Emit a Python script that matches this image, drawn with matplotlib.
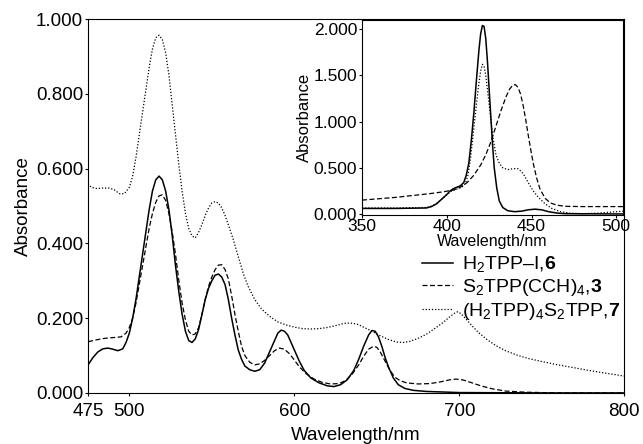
import matplotlib
matplotlib.use("Agg")
import matplotlib.pyplot as plt

plt.rcParams['font.family'] = ['Liberation Sans', 'DejaVu Sans']
plt.rcParams['mathtext.fontset'] = 'custom'
plt.rcParams['mathtext.rm'] = 'Liberation Sans'
plt.rcParams['mathtext.bf'] = 'Liberation Sans:bold'

# main panel: visible region spectra
wl_6 = [475, 478, 481, 484, 487, 490, 493, 496, 498, 500, 502, 504, 506, 508, 510, 512, 514,
        516, 518, 520, 522, 524, 526, 528, 530, 532, 534, 536, 538, 540, 542, 544, 546, 548,
        550, 552, 554, 556, 558, 560, 562, 564, 566, 568, 570, 573, 576, 579, 582, 585, 588,
        590, 592, 594, 596, 598, 600, 603, 606, 610, 615, 620, 624, 628, 632, 636, 639, 642,
        645, 647, 649, 651, 653, 655, 657, 660, 663, 667, 672, 680, 700, 750, 800]
abs_6 = [0.075, 0.095, 0.11, 0.118, 0.12, 0.117, 0.113, 0.118, 0.135, 0.16, 0.20, 0.25, 0.31,
         0.37, 0.43, 0.49, 0.54, 0.57, 0.58, 0.57, 0.54, 0.49, 0.42, 0.34, 0.27, 0.21, 0.165,
         0.14, 0.135, 0.145, 0.17, 0.21, 0.25, 0.28, 0.30, 0.315, 0.318, 0.31, 0.29, 0.25,
         0.20, 0.155, 0.115, 0.09, 0.072, 0.062, 0.058, 0.062, 0.08, 0.11, 0.14, 0.16, 0.168,
         0.165, 0.155, 0.135, 0.115, 0.085, 0.06, 0.04, 0.027, 0.019, 0.017, 0.022, 0.035,
         0.06, 0.09, 0.125, 0.155, 0.167, 0.165, 0.15, 0.125, 0.095, 0.07, 0.04, 0.022, 0.012,
         0.007, 0.004, 0.001, 0.0, 0.0]

wl_3 = [475, 480, 485, 490, 495, 498, 500, 502, 504, 506, 508, 510, 512, 514, 516, 518, 520,
        522, 524, 526, 528, 530, 532, 534, 536, 538, 540, 542, 544, 546, 548, 550, 552, 554,
        556, 558, 560, 562, 564, 566, 568, 570, 573, 576, 579, 582, 585, 588, 591, 594, 597,
        600, 603, 607, 612, 617, 622, 627, 631, 635, 639, 642, 645, 648, 650, 652, 655, 658,
        661, 664, 668, 675, 682, 688, 694, 698, 702, 707, 713, 720, 728, 740, 760, 800]
abs_3 = [0.137, 0.142, 0.146, 0.148, 0.15, 0.16, 0.175, 0.2, 0.24, 0.29, 0.34, 0.39, 0.44,
         0.48, 0.51, 0.527, 0.53, 0.515, 0.48, 0.43, 0.37, 0.30, 0.24, 0.195, 0.165, 0.155,
         0.158, 0.175, 0.21, 0.25, 0.285, 0.31, 0.33, 0.342, 0.343, 0.33, 0.305, 0.26, 0.21,
         0.165, 0.125, 0.10, 0.082, 0.075, 0.078, 0.087, 0.10, 0.113, 0.12, 0.117, 0.105,
         0.088, 0.07, 0.052, 0.037, 0.028, 0.024, 0.025, 0.033, 0.05, 0.075, 0.098, 0.117,
         0.125, 0.122, 0.11, 0.085, 0.06, 0.042, 0.033, 0.027, 0.024, 0.025, 0.029, 0.035,
         0.037, 0.035, 0.028, 0.019, 0.011, 0.005, 0.002, 0.0, 0.0]

wl_7 = [475, 477, 480, 484, 488, 491, 494, 497, 500, 502, 504, 506, 508, 510, 512, 514, 516,
        518, 520, 522, 524, 526, 528, 530, 532, 534, 536, 538, 540, 542, 544, 546, 548, 550,
        552, 554, 556, 558, 560, 563, 566, 569, 572, 576, 580, 585, 590, 595, 600, 605, 610,
        615, 620, 625, 630, 634, 638, 642, 647, 652, 657, 662, 666, 670, 675, 680, 685, 690,
        694, 697, 699, 701, 704, 708, 712, 717, 722, 728, 735, 742, 750, 760, 770, 780, 790,
        800]
abs_7 = [0.56, 0.55, 0.547, 0.548, 0.548, 0.543, 0.533, 0.533, 0.55, 0.58, 0.63, 0.69, 0.75,
         0.81, 0.87, 0.92, 0.95, 0.957, 0.945, 0.91, 0.85, 0.77, 0.69, 0.61, 0.54, 0.48, 0.44,
         0.42, 0.415, 0.43, 0.45, 0.475, 0.495, 0.508, 0.512, 0.508, 0.495, 0.475, 0.45, 0.41,
         0.365, 0.32, 0.285, 0.25, 0.225, 0.205, 0.19, 0.182, 0.176, 0.172, 0.171, 0.172,
         0.175, 0.18, 0.186, 0.187, 0.184, 0.176, 0.165, 0.153, 0.143, 0.136, 0.135, 0.138,
         0.146, 0.157, 0.172, 0.188, 0.203, 0.213, 0.217, 0.212, 0.198, 0.178, 0.16, 0.142,
         0.127, 0.113, 0.101, 0.092, 0.084, 0.075, 0.067, 0.059, 0.052, 0.045]

# inset: Soret region
wl_6_in = [350, 370, 388, 391, 394, 397, 400, 402, 404, 406, 408, 410, 411.5, 413, 414.5, 416,
           417.5, 419, 420, 421, 422, 423, 424, 425, 426, 427, 428, 429.5, 431, 433, 436, 440,
           444, 448, 452, 456, 460, 465, 470, 504]
abs_6_in = [0.06, 0.06, 0.065, 0.08, 0.11, 0.16, 0.21, 0.25, 0.275, 0.29, 0.305, 0.34, 0.42,
            0.55, 0.8, 1.1, 1.45, 1.78, 1.95, 2.04, 2.03, 1.9, 1.65, 1.35, 1.05, 0.75, 0.5,
            0.28, 0.14, 0.07, 0.035, 0.025, 0.03, 0.045, 0.052, 0.045, 0.025, 0.01, 0.003, 0.0]

wl_3_in = [350, 360, 370, 380, 390, 398, 404, 408, 412, 416, 420, 423, 426, 429, 432, 435, 437,
           439, 440.5, 442, 443.5, 445, 446.5, 448, 449.5, 451, 453, 455, 458, 461, 465, 470,
           480, 504]
abs_3_in = [0.15, 0.165, 0.18, 0.2, 0.22, 0.24, 0.26, 0.29, 0.34, 0.42, 0.53, 0.64, 0.78, 0.95,
            1.12, 1.27, 1.35, 1.395, 1.40, 1.37, 1.30, 1.18, 1.03, 0.86, 0.7, 0.55, 0.39, 0.27,
            0.17, 0.12, 0.095, 0.083, 0.08, 0.08]

wl_7_in = [350, 370, 388, 391, 394, 397, 400, 403, 406, 409, 411, 412.5, 414, 415.5, 417,
           418.5, 420, 421, 422, 423, 424.5, 426, 427.5, 429, 431, 433, 436, 439, 442, 444,
           446, 448, 451, 454, 458, 462, 467, 473, 480, 490, 504]
abs_7_in = [0.065, 0.065, 0.07, 0.085, 0.115, 0.16, 0.21, 0.25, 0.27, 0.29, 0.33, 0.42, 0.6,
            0.85, 1.1, 1.35, 1.55, 1.62, 1.6, 1.5, 1.27, 1.02, 0.8, 0.64, 0.55, 0.5, 0.48,
            0.49, 0.49, 0.46, 0.41, 0.34, 0.25, 0.18, 0.11, 0.06, 0.025, 0.008, 0.003, 0.01,
            0.03]

labels = [r'H$_{2}$TPP–I,$\mathbf{6}$',
          r'S$_{2}$TPP(CCH)$_{4}$,$\mathbf{3}$',
          r'(H$_{2}$TPP)$_{4}$S$_{2}$TPP,$\mathbf{7}$']

fig = plt.figure(figsize=(6.43, 4.44), dpi=100)
ax = fig.add_axes([0.137, 0.115, 0.834, 0.842])

l1, = ax.plot(wl_6, abs_6, '-', color='black', lw=1.1)
l2, = ax.plot(wl_3, abs_3, '--', color='black', lw=0.9, dashes=(4, 2))
l3, = ax.plot(wl_7, abs_7, ':', color='black', lw=0.9, dashes=(1, 1.5))

ax.set_xlim(475, 800)
ax.set_ylim(0, 1.0)
ax.set_xticks([475, 500, 600, 700, 800])
ax.set_yticks([0, 0.2, 0.4, 0.6, 0.8, 1.0])
ax.set_yticklabels(['%.3f' % v for v in [0, 0.2, 0.4, 0.6, 0.8, 1.0]])
ax.tick_params(labelsize=13.5, length=2.5, width=0.8, pad=1)
ax.tick_params(axis='x', pad=4.5)
ax.set_xlabel('Wavelength/nm', fontsize=13.5, labelpad=5)
ax.set_ylabel('Absorbance', fontsize=13.5, labelpad=3)
for s in ax.spines.values():
    s.set_linewidth(0.8)

ax.legend([l1, l2, l3], labels, loc='upper left', bbox_to_anchor=(0.623, 0.37),
          frameon=False, fontsize=14, handlelength=1.6, handletextpad=0.45,
          labelspacing=0.12, borderaxespad=0, borderpad=0)

# inset
axi = fig.add_axes([0.563, 0.516, 0.406, 0.439])
axi.plot(wl_6_in, abs_6_in, '-', color='black', lw=1.1)
axi.plot(wl_3_in, abs_3_in, '--', color='black', lw=0.9, dashes=(4, 2))
axi.plot(wl_7_in, abs_7_in, ':', color='black', lw=0.9, dashes=(1, 1.5))
axi.set_xlim(350, 504)
axi.set_ylim(-0.01, 2.1)
axi.set_xticks([350, 400, 450, 500])
axi.set_yticks([0, 0.5, 1.0, 1.5, 2.0])
axi.set_yticklabels(['%.3f' % v for v in [0, 0.5, 1.0, 1.5, 2.0]])
axi.tick_params(labelsize=12.5, length=2.5, width=0.8, pad=1)
axi.tick_params(axis='x', pad=0.5)
axi.set_xlabel('Wavelength/nm', fontsize=11.5, labelpad=0)
axi.set_ylabel('Absorbance', fontsize=12, labelpad=1)
for s in axi.spines.values():
    s.set_linewidth(0.8)

fig.savefig('out.png', dpi=100)
